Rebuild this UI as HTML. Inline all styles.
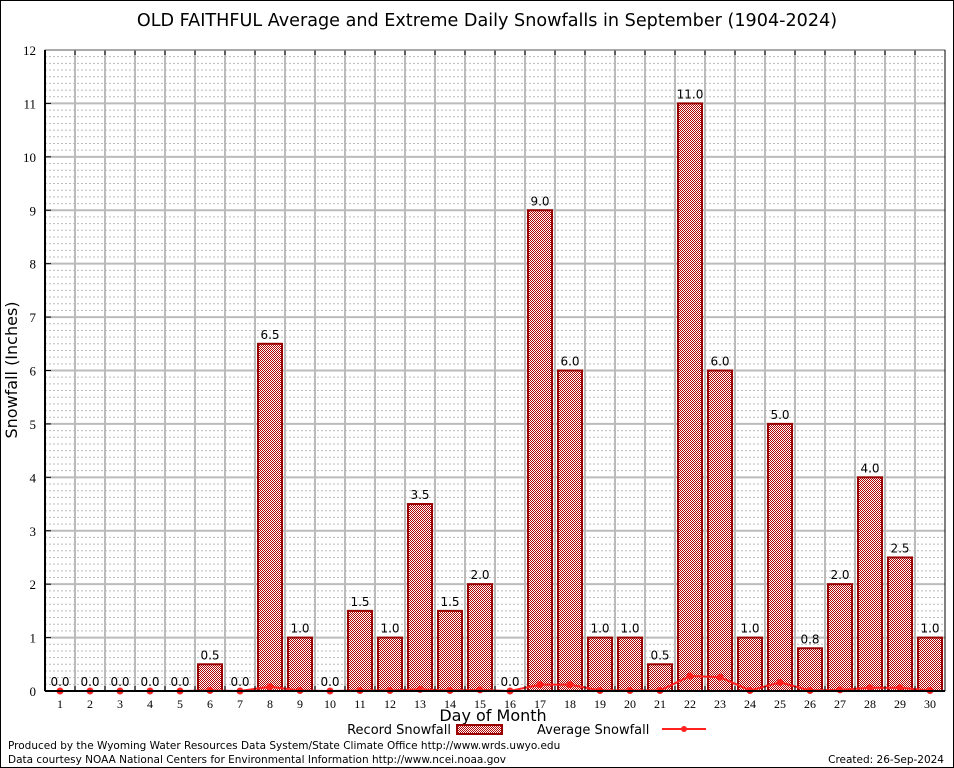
<!DOCTYPE html>
<html><head><meta charset="utf-8"><style>
html,body{margin:0;padding:0;background:#fff;}
svg{display:block;font-family:"DejaVu Sans","Liberation Sans",sans-serif;}
</style></head><body>
<svg id="chart" width="954" height="768" viewBox="0 0 954 768" xmlns="http://www.w3.org/2000/svg">
<defs>
<pattern id="chk" width="2" height="2" patternUnits="userSpaceOnUse">
<rect width="2" height="2" fill="#fff"/><rect width="1" height="1" fill="#b00000"/><rect x="1" y="1" width="1" height="1" fill="#b00000"/>
</pattern>
</defs>
<rect x="0.5" y="0.5" width="953" height="767" fill="#fff" stroke="#000"/>
<text x="487" y="26" font-size="17.6" text-anchor="middle">OLD FAITHFUL Average and Extreme Daily Snowfalls in September (1904-2024)</text>
<g id="grid"></g>
<g id="bars"></g>
<g id="avg"></g>
<g id="axes"></g>
<text transform="translate(17,370) rotate(-90)" font-size="16" text-anchor="middle">Snowfall (Inches)</text>
<text x="493" y="721" font-size="16" text-anchor="middle">Day of Month</text>
<g>
<text x="451" y="734" font-size="13" text-anchor="end">Record Snowfall</text>
<rect x="457" y="725" width="45" height="9" fill="url(#chk)" stroke="#990000" stroke-width="2"/>
<text x="537" y="734" font-size="13">Average Snowfall</text>
<line x1="662" y1="729" x2="706" y2="729" stroke="#ff2020" stroke-width="2"/>
<circle cx="684" cy="729" r="3" fill="#ff2020"/>
</g>
<text x="8" y="749" font-size="10.5">Produced by the Wyoming Water Resources Data System/State Climate Office http://www.wrds.uwyo.edu</text>
<text x="8" y="763" font-size="10.5">Data courtesy NOAA National Centers for Environmental Information http://www.ncei.noaa.gov</text>
<text x="944" y="763" font-size="10.5" text-anchor="end">Created: 26-Sep-2024</text>
</svg>
<script>
const days = [1,2,3,4,5,6,7,8,9,10,11,12,13,14,15,16,17,18,19,20,21,22,23,24,25,26,27,28,29,30];
const records = [0,0,0,0,0,0.5,0,6.5,1,0,1.5,1,3.5,1.5,2,0,9,6,1,1,0.5,11,6,1,5,0.8,2,4,2.5,1];
const recordLabels = ["0.0","0.0","0.0","0.0","0.0","0.5","0.0","6.5","1.0","0.0","1.5","1.0","3.5","1.5","2.0","0.0","9.0","6.0","1.0","1.0","0.5","11.0","6.0","1.0","5.0","0.8","2.0","4.0","2.5","1.0"];
const averages = [0,0,0,0,0,0.01,0,0.08,0.01,0,0.01,0.01,0.03,0.01,0.02,0,0.12,0.12,0.01,0.01,0.01,0.28,0.26,0.01,0.16,0.01,0.02,0.06,0.06,0.01];
const yTicks = [0,1,2,3,4,5,6,7,8,9,10,11,12];

const L=45,R=945,T=50,B=691,yMax=12;
const xS = d => L + (d-0.5)*(R-L)/30;
const yS = v => B - v*(B-T)/yMax;
const NS="http://www.w3.org/2000/svg";
function mk(tag,attrs,parent){const e=document.createElementNS(NS,tag);for(const k in attrs)e.setAttribute(k,attrs[k]);parent.appendChild(e);return e;}
const grid=document.getElementById('grid'),bars=document.getElementById('bars'),avg=document.getElementById('avg'),axes=document.getElementById('axes');
for(let i=0;i<yMax*8;i++){ if(i%8===0) continue; const y=yS(i/8);
 const l=mk('line',{x1:L,x2:R,y1:y,y2:y,stroke:'#bbb','stroke-width':1,'stroke-dasharray':'2,2'},grid);
 
 }
for(let d=1;d<30;d++){const x=L+d*30;
 const l=mk('line',{x1:x,x2:x,y1:T,y2:B,stroke:'#bbb','stroke-width':2},grid);
 
 }
yTicks.forEach(t=>{const y=yS(t);
 if(t>0){const l=mk('line',{x1:L,x2:R,y1:y,y2:y,stroke:'#bbb','stroke-width':2},grid);
 
 }
 const tx=mk('text',{x:36,y:y+5,'font-size':13,'text-anchor':'end','font-family':'Liberation Serif, serif'},axes);tx.textContent=t;
 
 
 mk('line',{x1:L,x2:L+6,y1:y,y2:y,stroke:'#000'},axes);
});
days.forEach((d,i)=>{const v=records[i],x=xS(d);
 if(v>0){const r=mk('rect',{x:x-12,y:yS(v),width:24,height:B-yS(v),fill:'url(#chk)',stroke:'#990000','stroke-width':2},bars);
 
 }
 const t=mk('text',{x:x,y:yS(v)-5,'font-size':12,'text-anchor':'middle'},bars);t.textContent=recordLabels[i];
 
 
 const xt=mk('text',{x:x,y:708,'font-size':12,'text-anchor':'middle','font-family':'Liberation Serif, serif'},axes);xt.textContent=d;
 
 
 mk('line',{x1:L+d*30,x2:L+d*30,y1:T,y2:T+5,stroke:'#000'},axes);
 mk('line',{x1:L+d*30,x2:L+d*30,y1:B,y2:B-5,stroke:'#000'},axes);
});
const pts=days.map((d,i)=>xS(d)+','+yS(averages[i])).join(' ');
const pl=mk('polyline',{points:pts,fill:'none',stroke:'#ff2020','stroke-width':2},avg);


days.forEach((d,i)=>{const c=mk('circle',{cx:xS(d),cy:yS(averages[i]),r:3.5,fill:'#ff2020'},avg);
 
 });
const fr=mk('rect',{x:L,y:T,width:R-L,height:B-T,fill:'none',stroke:'#999','stroke-width':1},axes);


mk('line',{x1:L,x2:L,y1:T,y2:B,stroke:'#000','stroke-width':2},axes);
mk('line',{x1:L,x2:R,y1:B,y2:B,stroke:'#000','stroke-width':2},axes);
mk('line',{x1:R,x2:R,y1:T,y2:B,stroke:'#000','stroke-width':1},axes);
</script>
</body></html>
